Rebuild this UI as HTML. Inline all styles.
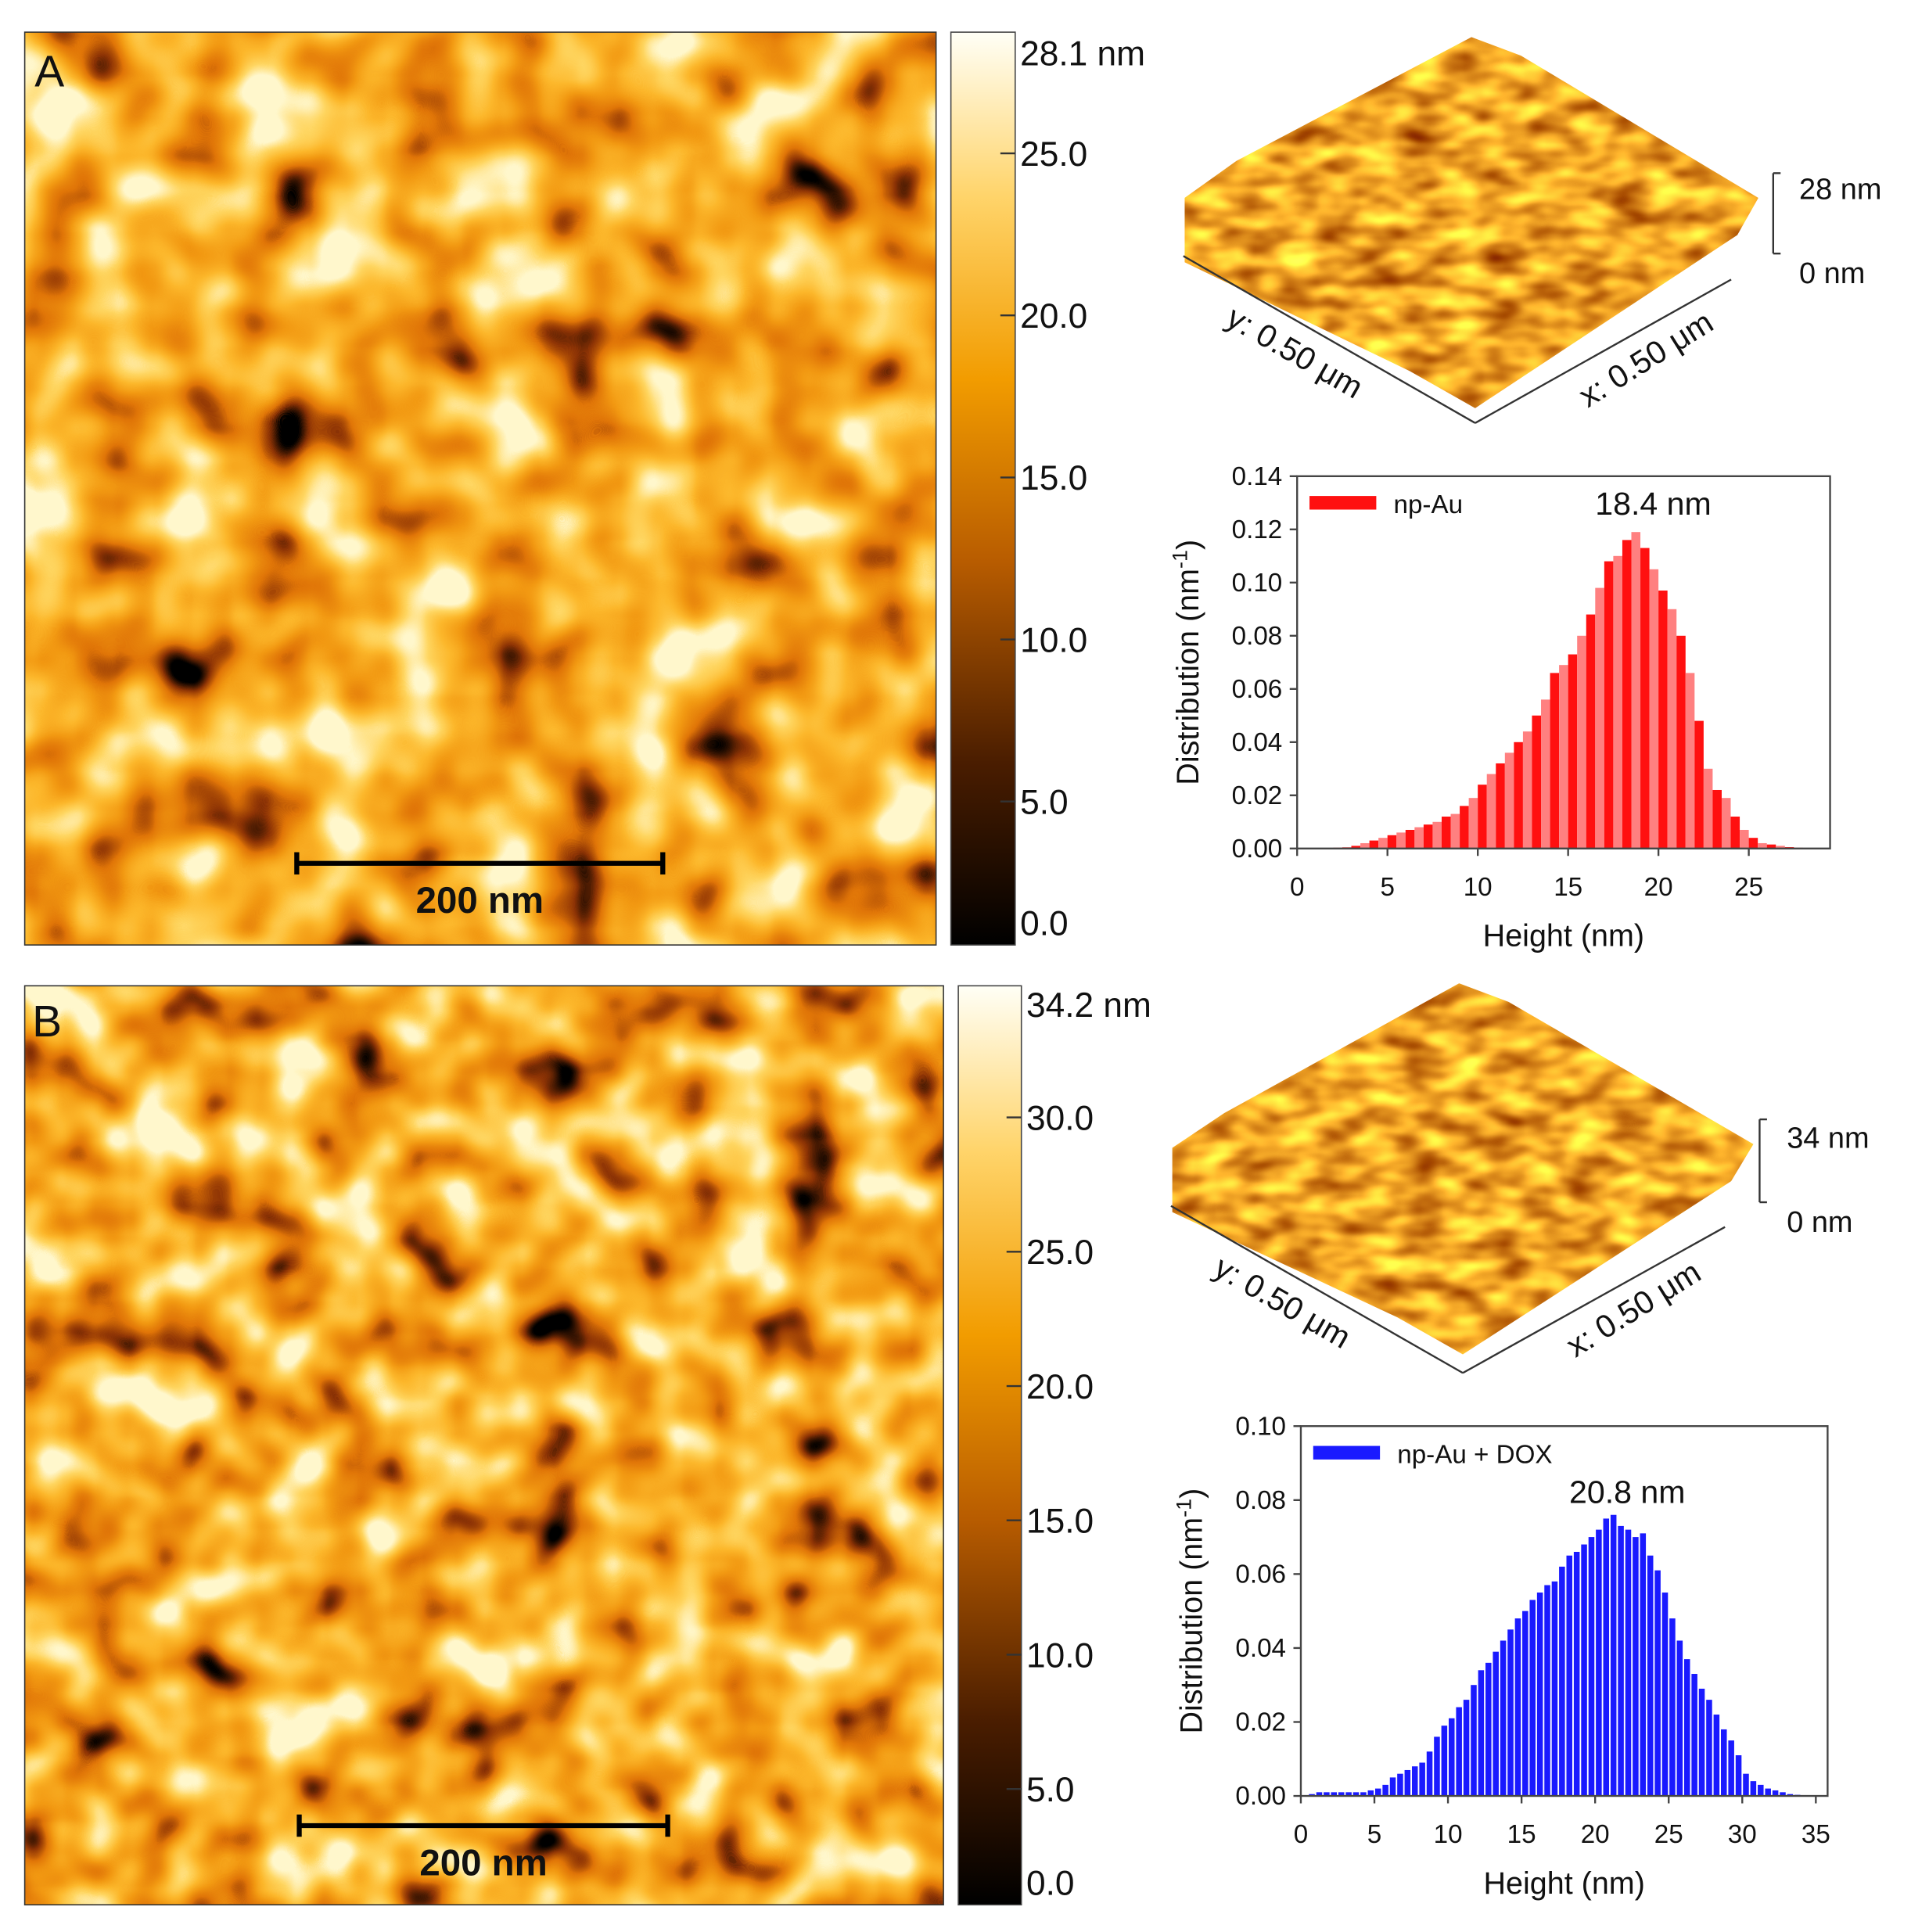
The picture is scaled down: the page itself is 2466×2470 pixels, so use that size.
<!DOCTYPE html>
<html><head><meta charset="utf-8"><style>
html,body{margin:0;padding:0;background:#fff}
svg{display:block}
text{font-family:"Liberation Sans",Arial,sans-serif;fill:#111}
</style></head><body>
<svg id="fig" width="2466" height="2470" viewBox="0 0 1560 1562" preserveAspectRatio="none" xmlns="http://www.w3.org/2000/svg">
<defs>
<filter id="afmA" x="0" y="0" width="100%" height="100%" color-interpolation-filters="sRGB">
<feTurbulence type="fractalNoise" baseFrequency="0.016" numOctaves="2" seed="3"/>
<feColorMatrix type="matrix" values="1.8 0 0 0 -0.3  1.8 0 0 0 -0.3  1.8 0 0 0 -0.3  0 0 0 0 1"/>
<feComponentTransfer>
<feFuncR type="table" tableValues="0 0.55 0.88 0.95 0.99 1 1"/>
<feFuncG type="table" tableValues="0 0.2 0.46 0.6 0.72 0.84 0.97"/>
<feFuncB type="table" tableValues="0 0.02 0.03 0.07 0.17 0.38 0.8"/>
</feComponentTransfer>
</filter>
<filter id="afmB" x="0" y="0" width="100%" height="100%" color-interpolation-filters="sRGB">
<feTurbulence type="fractalNoise" baseFrequency="0.019" numOctaves="2" seed="11"/>
<feColorMatrix type="matrix" values="1.8 0 0 0 -0.3  1.8 0 0 0 -0.3  1.8 0 0 0 -0.3  0 0 0 0 1"/>
<feComponentTransfer>
<feFuncR type="table" tableValues="0 0.55 0.88 0.95 0.99 1 1"/>
<feFuncG type="table" tableValues="0 0.2 0.46 0.6 0.72 0.84 0.97"/>
<feFuncB type="table" tableValues="0 0.02 0.03 0.07 0.17 0.38 0.8"/>
</feComponentTransfer>
</filter>
<filter id="surf" x="0" y="0" width="100%" height="100%" color-interpolation-filters="sRGB">
<feTurbulence type="fractalNoise" baseFrequency="0.03 0.06" numOctaves="2" seed="5"/>
<feColorMatrix type="matrix" values="1.0 0 0 0 0.45  1.2 0 0 0 0.05  0.5 0 0 0 -0.1  0 0 0 0 1"/>
</filter>
<linearGradient id="cbar" x1="0" y1="1" x2="0" y2="0">
<stop offset="0" stop-color="#000"/>
<stop offset="0.2" stop-color="#4a1d00"/>
<stop offset="0.42" stop-color="#b85c00"/>
<stop offset="0.62" stop-color="#f29c00"/>
<stop offset="0.82" stop-color="#ffd46a"/>
<stop offset="1" stop-color="#fffff6"/>
</linearGradient>
<clipPath id="clipSA"><polygon points="958,160 1000,130 1190,30 1230,45 1422,160 1405,190 1193,330 1140,300 958,212"/></clipPath>
<clipPath id="clipSB"><polygon points="948,928 990,900 1180,795 1220,810 1418,925 1400,955 1183,1095 1130,1065 948,980"/></clipPath>
</defs>

<rect x="20" y="26" width="737" height="738" fill="#e8a030" filter="url(#afmA)"/>
<rect x="20" y="26" width="737" height="738" fill="none" stroke="#333" stroke-width="1"/>
<text x="28" y="70" font-size="36">A</text>
<g>
<line x1="240" y1="698" x2="536" y2="698" stroke="#000" stroke-width="4"/>
<line x1="240" y1="689" x2="240" y2="707" stroke="#000" stroke-width="4"/>
<line x1="536" y1="689" x2="536" y2="707" stroke="#000" stroke-width="4"/>
<text x="388" y="738" font-size="30" font-weight="bold" text-anchor="middle">200 nm</text>
</g>
<rect x="769" y="26" width="52" height="738" fill="url(#cbar)" stroke="#444" stroke-width="1"/>
<g id="cbA"></g>

<rect x="20" y="797" width="743" height="743" fill="#e8a030" filter="url(#afmB)"/>
<rect x="20" y="797" width="743" height="743" fill="none" stroke="#333" stroke-width="1"/>
<text x="26" y="838" font-size="36">B</text>
<g>
<line x1="242" y1="1476" x2="540" y2="1476" stroke="#000" stroke-width="4"/>
<line x1="242" y1="1467" x2="242" y2="1485" stroke="#000" stroke-width="4"/>
<line x1="540" y1="1467" x2="540" y2="1485" stroke="#000" stroke-width="4"/>
<text x="391" y="1516" font-size="30" font-weight="bold" text-anchor="middle">200 nm</text>
</g>
<rect x="775" y="797" width="51" height="743" fill="url(#cbar)" stroke="#444" stroke-width="1"/>
<g id="cbB"></g>

<g>
<g clip-path="url(#clipSA)"><rect x="950" y="25" width="480" height="320" fill="#f0a020" filter="url(#surf)"/></g>
<line x1="957" y1="207" x2="1193" y2="342" stroke="#333" stroke-width="1.5"/>
<line x1="1193" y1="342" x2="1400" y2="226" stroke="#333" stroke-width="1.5"/>
<line x1="1434" y1="140" x2="1434" y2="205" stroke="#333" stroke-width="1.5"/>
<line x1="1434" y1="140" x2="1440" y2="140" stroke="#333" stroke-width="1.5"/>
<line x1="1434" y1="205" x2="1440" y2="205" stroke="#333" stroke-width="1.5"/>
<text x="1455" y="161" font-size="24">28 nm</text>
<text x="1455" y="229" font-size="24">0 nm</text>
<text x="0" y="0" font-size="26" transform="translate(990,262) rotate(30)">y: 0.50 μm</text>
<text x="0" y="0" font-size="26" transform="translate(1284,330) rotate(-32)">x: 0.50 μm</text>
</g>
<g>
<g clip-path="url(#clipSB)"><rect x="940" y="790" width="485" height="320" fill="#f0a020" filter="url(#surf)"/></g>
<line x1="947" y1="975" x2="1183" y2="1110" stroke="#333" stroke-width="1.5"/>
<line x1="1183" y1="1110" x2="1395" y2="992" stroke="#333" stroke-width="1.5"/>
<line x1="1423" y1="905" x2="1423" y2="972" stroke="#333" stroke-width="1.5"/>
<line x1="1423" y1="905" x2="1429" y2="905" stroke="#333" stroke-width="1.5"/>
<line x1="1423" y1="972" x2="1429" y2="972" stroke="#333" stroke-width="1.5"/>
<text x="1445" y="928" font-size="24">34 nm</text>
<text x="1445" y="996" font-size="24">0 nm</text>
<text x="0" y="0" font-size="26" transform="translate(980,1030) rotate(30)">y: 0.50 μm</text>
<text x="0" y="0" font-size="26" transform="translate(1274,1098) rotate(-32)">x: 0.50 μm</text>
</g>

<g id="histA"></g>
<g id="histB"></g>
</svg>
<script>
const NS = "http://www.w3.org/2000/svg";
const cbALabels = ["28.1 nm","25.0","20.0","15.0","10.0","5.0","0.0"];
const cbAValues = [28.1,25,20,15,10,5,0];
const cbBLabels = ["34.2 nm","30.0","25.0","20.0","15.0","10.0","5.0","0.0"];
const cbBValues = [34.2,30,25,20,15,10,5,0];
const histAX = [0,0.5,1,1.5,2,2.5,3,3.5,4,4.5,5,5.5,6,6.5,7,7.5,8,8.5,9,9.5,10,10.5,11,11.5,12,12.5,13,13.5,14,14.5,15,15.5,16,16.5,17,17.5,18,18.5,19,19.5,20,20.5,21,21.5,22,22.5,23,23.5,24,24.5,25,25.5,26,26.5,27,27.5,28];
const histAY = [0,0,0,0,0.0003,0.0005,0.001,0.002,0.003,0.004,0.005,0.006,0.007,0.008,0.009,0.010,0.012,0.013,0.016,0.019,0.024,0.028,0.032,0.036,0.040,0.044,0.050,0.056,0.066,0.069,0.073,0.080,0.088,0.098,0.108,0.110,0.116,0.119,0.113,0.105,0.097,0.090,0.080,0.066,0.048,0.030,0.022,0.019,0.012,0.007,0.004,0.002,0.0015,0.001,0.0005,0.0003,0.0002];
const histAYTicks = ["0.00","0.02","0.04","0.06","0.08","0.10","0.12","0.14"];
const histAXTicks = [0,5,10,15,20,25];
const histBX = [0,0.5,1,1.5,2,2.5,3,3.5,4,4.5,5,5.5,6,6.5,7,7.5,8,8.5,9,9.5,10,10.5,11,11.5,12,12.5,13,13.5,14,14.5,15,15.5,16,16.5,17,17.5,18,18.5,19,19.5,20,20.5,21,21.5,22,22.5,23,23.5,24,24.5,25,25.5,26,26.5,27,27.5,28,28.5,29,29.5,30,30.5,31,31.5,32,32.5,33,33.5,34];
const histBY = [0,0.0005,0.001,0.001,0.001,0.001,0.001,0.001,0.001,0.0015,0.002,0.003,0.005,0.006,0.007,0.008,0.009,0.012,0.016,0.019,0.021,0.024,0.026,0.030,0.034,0.036,0.039,0.042,0.045,0.048,0.050,0.053,0.055,0.057,0.058,0.062,0.065,0.066,0.068,0.070,0.072,0.075,0.076,0.073,0.072,0.070,0.071,0.065,0.061,0.055,0.048,0.042,0.037,0.033,0.029,0.026,0.022,0.018,0.015,0.011,0.006,0.004,0.003,0.002,0.0015,0.001,0.0005,0.0003,0];
const histBYTicks = ["0.00","0.02","0.04","0.06","0.08","0.10"];
const histBXTicks = [0,5,10,15,20,25,30,35];

function mk(tag, attrs, parent){const e=document.createElementNS(NS,tag);for(const k in attrs)e.setAttribute(k,attrs[k]);parent.appendChild(e);return e;}

function colorbar(gid, x, top, bottom, zeroY, perUnit, vals, labels){
  const g=document.getElementById(gid);
  const ys=v=>zeroY-v*perUnit;
  vals.forEach((v,i)=>{
    const y=ys(v);
    if(i>0 && i<vals.length-1){
      const t=mk('line',{x1:x-12,y1:y,x2:x,y2:y,stroke:'#333','stroke-width':1.5},g);
      
      
    }
    let ty = y+10;
    if(i===vals.length-1) ty = bottom-8;
    const tx=mk('text',{x:x+4,y:ty,'font-size':28},g);
    tx.textContent=labels[i];
    
    
  });
}
colorbar('cbA',821,26,764,779,26.2,cbAValues,cbALabels);
colorbar('cbB',826,797,1540,1555,21.72,cbBValues,cbBLabels);

function hist(gid, o){
  const g=document.getElementById(gid);
  const sx=v=>o.x0+(v-o.xmin)/(o.xmax-o.xmin)*(o.x1-o.x0);
  const sy=v=>o.y1-(v/o.ymax)*(o.y1-o.y0);
  const step=o.xs[1]-o.xs[0];
  o.xs.forEach((xv,i)=>{
    const yv=o.ys[i];
    const left=sx(xv), w=sx(xv+step)-left;
    const b=mk('rect',{x:left+(o.gap?w*0.1:0),y:sy(yv),width:o.gap?w*0.8:w,height:o.y1-sy(yv),fill:(o.alt&&i%2)?o.color2:o.color},g);
    
    
  });
  mk('rect',{x:o.x0,y:o.y0,width:o.x1-o.x0,height:o.y1-o.y0,fill:'none',stroke:'#444','stroke-width':1.5},g);
  o.yt.forEach((lab,i)=>{
    const v=parseFloat(lab), y=sy(v);
    mk('line',{x1:o.x0-6,y1:y,x2:o.x0,y2:y,stroke:'#444','stroke-width':1.5},g);
    const t=mk('text',{x:o.x0-12,y:y+7,'font-size':21,'text-anchor':'end'},g);
    t.textContent=lab;
    
    
  });
  o.xt.forEach(v=>{
    const x=sx(v);
    mk('line',{x1:x,y1:o.y1,x2:x,y2:o.y1+6,stroke:'#444','stroke-width':1.5},g);
    const t=mk('text',{x:x,y:o.y1+38,'font-size':21,'text-anchor':'middle'},g);
    t.textContent=v;
    
    
  });
  const xt=mk('text',{x:(o.x0+o.x1)/2,y:o.y1+79,'font-size':25,'text-anchor':'middle'},g);
  xt.textContent='Height (nm)';
  
  
  const yt=mk('text',{x:0,y:0,'font-size':25,'text-anchor':'middle',transform:`translate(${o.x0-80},${(o.y0+o.y1)/2}) rotate(-90)`},g);
  yt.innerHTML='Distribution (nm<tspan dy="-9" font-size="17">-1</tspan><tspan dy="9">)</tspan>';
  
  
  const lg=mk('rect',{x:o.x0+10,y:o.y0+16,width:54,height:11,fill:o.color},g);
  
  
  const lt=mk('text',{x:o.x0+78,y:o.y0+30,'font-size':21},g);
  lt.textContent=o.legend;
  
  
  const pk=mk('text',{x:o.pkx,y:o.pky,'font-size':26,'text-anchor':'middle'},g);
  pk.textContent=o.peak;
  
  
}
hist('histA',{x0:1049,x1:1480,y0:385,y1:686,xmin:0,xmax:29.5,ymax:0.14,xs:histAX,ys:histAY,yt:histAYTicks,xt:histAXTicks,color:'#ff1010',color2:'#ff8080',alt:true,gap:false,legend:'np-Au',peak:'18.4  nm',pkx:1337,pky:416});
hist('histB',{x0:1052,x1:1478,y0:1153,y1:1452,xmin:0,xmax:35.8,ymax:0.10,xs:histBX,ys:histBY,yt:histBYTicks,xt:histBXTicks,color:'#1a1aff',color2:'#1a1aff',alt:false,gap:true,legend:'np-Au + DOX',peak:'20.8 nm',pkx:1316,pky:1215});
</script>
</body></html>
